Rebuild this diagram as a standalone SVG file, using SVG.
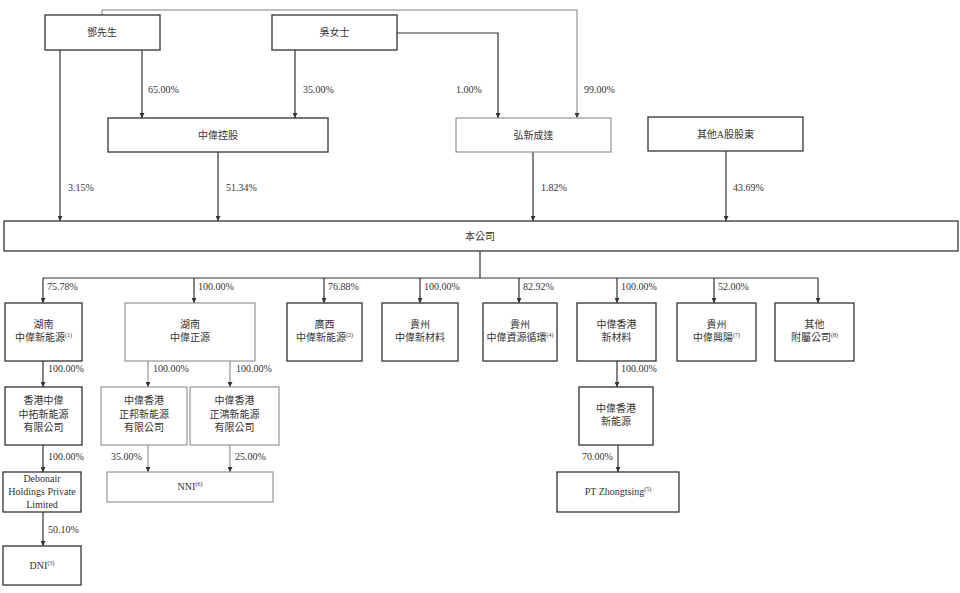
<svg xmlns="http://www.w3.org/2000/svg" width="960" height="593" viewBox="0 0 960 593">
<defs>
<style>
.t{font-family:"Liberation Serif","Noto Sans CJK TC",serif;font-size:10px;fill:#333}
.c{text-anchor:middle}
.b{fill:#fff;stroke:#333;stroke-width:1.3}
.g{fill:#fff;stroke:#808080;stroke-width:1}
.ln{fill:none;stroke:#333;stroke-width:1.2}
.lg{fill:none;stroke:#808080;stroke-width:1}
.sup{font-size:6px}
</style>
<marker id="ah" markerUnits="userSpaceOnUse" markerWidth="5" markerHeight="5" refX="5" refY="2.5" orient="auto">
<path d="M0,0 L5,2.5 L0,5 z" fill="#333"/>
</marker>
</defs>
<rect width="960" height="593" fill="#fff"/>
<g id="connectors">
<path class="lg" d="M102,15 V10 H577 V118" marker-end="url(#ah)"/>
<path class="ln" d="M397,33 H498 V118" marker-end="url(#ah)"/>
<path class="ln" d="M142,50 V118" marker-end="url(#ah)"/>
<path class="ln" d="M295,50 V118" marker-end="url(#ah)"/>
<path class="ln" d="M60,50 V221" marker-end="url(#ah)"/>
<path class="ln" d="M218,152 V221" marker-end="url(#ah)"/>
<path class="ln" d="M533,152 V221" marker-end="url(#ah)"/>
<path class="ln" d="M726,151 V221" marker-end="url(#ah)"/>
<path class="ln" d="M480,251 V278 M43,278 H818"/>
<path class="ln" d="M43,278 V303" marker-end="url(#ah)"/>
<path class="ln" d="M194,278 V303" marker-end="url(#ah)"/>
<path class="ln" d="M324,278 V303" marker-end="url(#ah)"/>
<path class="ln" d="M420,278 V303" marker-end="url(#ah)"/>
<path class="ln" d="M519,278 V303" marker-end="url(#ah)"/>
<path class="ln" d="M617,278 V303" marker-end="url(#ah)"/>
<path class="ln" d="M714,278 V303" marker-end="url(#ah)"/>
<path class="ln" d="M818,278 V303" marker-end="url(#ah)"/>
<path class="ln" d="M43,361 V387" marker-end="url(#ah)"/>
<path class="lg" d="M148,361 V387" marker-end="url(#ah)"/>
<path class="lg" d="M230,361 V387" marker-end="url(#ah)"/>
<path class="ln" d="M617,361 V387" marker-end="url(#ah)"/>
<path class="ln" d="M43,445 V472" marker-end="url(#ah)"/>
<path class="lg" d="M148,445 V472" marker-end="url(#ah)"/>
<path class="lg" d="M230,445 V472" marker-end="url(#ah)"/>
<path class="ln" d="M618,445 V472" marker-end="url(#ah)"/>
<path class="ln" d="M43,512 V546" marker-end="url(#ah)"/>
</g>
<g id="labels" class="t">
<text x="148" y="93">65.00%</text>
<text x="303" y="93">35.00%</text>
<text x="456" y="93">1.00%</text>
<text x="584" y="93">99.00%</text>
<text x="68" y="191">3.15%</text>
<text x="226" y="191">51.34%</text>
<text x="541" y="191">1.82%</text>
<text x="733" y="191">43.69%</text>
<text x="47" y="290">75.78%</text>
<text x="198" y="290">100.00%</text>
<text x="328" y="290">76.88%</text>
<text x="424" y="290">100.00%</text>
<text x="523" y="290">82.92%</text>
<text x="621" y="290">100.00%</text>
<text x="718" y="290">52.00%</text>
<text x="48" y="372">100.00%</text>
<text x="153" y="372">100.00%</text>
<text x="236" y="372">100.00%</text>
<text x="621" y="372">100.00%</text>
<text x="48" y="460">100.00%</text>
<text x="111" y="460">35.00%</text>
<text x="235" y="460">25.00%</text>
<text x="582" y="460">70.00%</text>
<text x="48" y="533">50.10%</text>
</g>
<g id="n-deng"><rect class="b" x="45" y="15" width="115" height="35"/><text class="t c" x="102" y="36">鄧先生</text></g>
<g id="n-wu"><rect class="b" x="272" y="15" width="125" height="35"/><text class="t c" x="334.5" y="36">吳女士</text></g>
<g id="n-zwkg"><rect class="b" x="108" y="118" width="220" height="34"/><text class="t c" x="218" y="139">中偉控股</text></g>
<g id="n-hxcd"><rect class="g" x="456" y="118" width="155" height="34"/><text class="t c" x="533.5" y="139">弘新成達</text></g>
<g id="n-other-a"><rect class="b" x="648" y="117" width="155" height="34"/><text class="t c" x="725.5" y="138">其他A股股東</text></g>
<g id="n-company"><rect class="b" x="4" y="221" width="954" height="30"/><text class="t c" x="480" y="240">本公司</text></g>
<g id="n-hn-xny"><rect class="b" x="5" y="303" width="77" height="58"/><text class="t c" x="43.5" y="328">湖南</text><text class="t c" x="43.5" y="341">中偉新能源<tspan class="sup" dy="-4">(1)</tspan></text></g>
<g id="n-hn-zy"><rect class="g" x="125" y="303" width="130" height="58"/><text class="t c" x="190" y="328">湖南</text><text class="t c" x="190" y="341">中偉正源</text></g>
<g id="n-gx-xny"><rect class="b" x="287" y="303" width="75" height="58"/><text class="t c" x="324.5" y="328">廣西</text><text class="t c" x="324.5" y="341">中偉新能源<tspan class="sup" dy="-4">(2)</tspan></text></g>
<g id="n-gz-xcl"><rect class="b" x="382" y="303" width="76" height="58"/><text class="t c" x="420" y="328">貴州</text><text class="t c" x="420" y="341">中偉新材料</text></g>
<g id="n-gz-zyxh"><rect class="b" x="483" y="303" width="74" height="58"/><text class="t c" x="520" y="328">貴州</text><text class="t c" x="520" y="341">中偉資源循環<tspan class="sup" dy="-4">(4)</tspan></text></g>
<g id="n-hk-xcl"><rect class="b" x="577" y="303" width="79" height="58"/><text class="t c" x="616.5" y="328">中偉香港</text><text class="t c" x="616.5" y="341">新材料</text></g>
<g id="n-gz-xy"><rect class="b" x="677" y="303" width="79" height="58"/><text class="t c" x="716.5" y="328">貴州</text><text class="t c" x="716.5" y="341">中偉興陽<tspan class="sup" dy="-4">(7)</tspan></text></g>
<g id="n-other-sub"><rect class="b" x="775" y="303" width="79" height="58"/><text class="t c" x="814.5" y="328">其他</text><text class="t c" x="814.5" y="341">附屬公司<tspan class="sup" dy="-4">(8)</tspan></text></g>
<g id="n-hk-zt"><rect class="b" x="5" y="387" width="77" height="58"/><text class="t c" x="43.5" y="404">香港中偉</text><text class="t c" x="43.5" y="418">中拓新能源</text><text class="t c" x="43.5" y="431">有限公司</text></g>
<g id="n-hk-zb"><rect class="g" x="101" y="387" width="86" height="58"/><text class="t c" x="144" y="404">中偉香港</text><text class="t c" x="144" y="418">正邦新能源</text><text class="t c" x="144" y="431">有限公司</text></g>
<g id="n-hk-zh"><rect class="g" x="190" y="387" width="89" height="58"/><text class="t c" x="234.5" y="404">中偉香港</text><text class="t c" x="234.5" y="418">正鴻新能源</text><text class="t c" x="234.5" y="431">有限公司</text></g>
<g id="n-hk-xny"><rect class="b" x="579" y="387" width="74" height="58"/><text class="t c" x="616" y="412">中偉香港</text><text class="t c" x="616" y="425">新能源</text></g>
<g id="n-debonair"><rect class="b" x="3" y="472" width="78" height="40"/><text class="t c" x="42" y="482">Debonair</text><text class="t c" x="42" y="495">Holdings Private</text><text class="t c" x="42" y="508">Limited</text></g>
<g id="n-nni"><rect class="g" x="107" y="472" width="166" height="30"/><text class="t c" x="190" y="490">NNI<tspan class="sup" dy="-4">(6)</tspan></text></g>
<g id="n-pt"><rect class="b" x="557" y="472" width="122" height="40"/><text class="t c" x="618" y="495">PT Zhongtsing<tspan class="sup" dy="-4">(5)</tspan></text></g>
<g id="n-dni"><rect class="b" x="3" y="546" width="78" height="39"/><text class="t c" x="42" y="569">DNI<tspan class="sup" dy="-4">(3)</tspan></text></g>
</svg>
